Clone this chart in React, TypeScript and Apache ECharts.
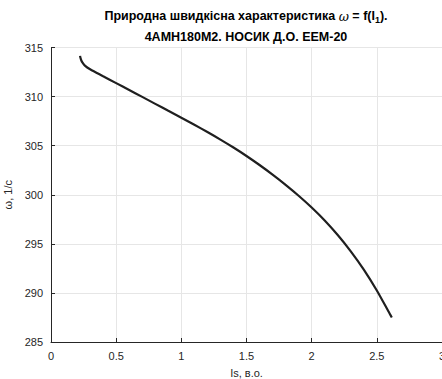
import React, { useEffect, useRef } from "react";
import * as echarts from "echarts";

const currentIs = [0.223, 0.226, 0.232, 0.242, 0.26, 0.3, 0.4, 0.5, 0.6, 0.7, 0.8, 0.9, 1.0, 1.1, 1.2, 1.3, 1.4, 1.5, 1.6, 1.7, 1.8, 1.9, 2.0, 2.1, 2.2, 2.3, 2.4, 2.5, 2.6, 2.615];
const omega = [314.15, 313.95, 313.7, 313.45, 313.15, 312.78, 312.07, 311.37, 310.67, 309.97, 309.26, 308.55, 307.85, 307.13, 306.39, 305.62, 304.81, 303.95, 303.03, 302.05, 301.01, 299.9, 298.7, 297.38, 295.9, 294.24, 292.38, 290.25, 287.85, 287.5];

const titleLine1 = "Природна швидкісна характеристика ";
const titleLine2 = "4АМН180М2. НОСИК Д.О. ЕЕМ-20";

const FONT = "'Liberation Sans', Arial, sans-serif";

export default function App() {
  const ref = useRef<HTMLDivElement>(null);
  useEffect(() => {
    const chart = echarts.init(ref.current!, null, { renderer: "svg" });
    const data = currentIs.map((x, i) => [x, omega[i]]);
    chart.setOption({
      animation: false,
      backgroundColor: "#ffffff",
      graphic: [
        {
          type: "text",
          x: 246,
          y: 16,
          style: {
            text: "{b|" + titleLine1 + "}{i|ω}{b| = f(I}{s|1}{b|).}",
            align: "center",
            verticalAlign: "middle",
            rich: {
              b: { fontFamily: FONT, fontWeight: "bold", fontSize: 12.5, fill: "#000" },
              i: { fontFamily: "'DejaVu Serif', serif", fontStyle: "italic", fontSize: 12.5, fill: "#000" },
              s: { fontFamily: FONT, fontWeight: "bold", fontSize: 9, fill: "#000", padding: [7, 0, 0, 0] },
            },
          },
        },
        {
          type: "text",
          x: 246,
          y: 37,
          style: {
            text: titleLine2,
            align: "center",
            verticalAlign: "middle",
            font: "bold 12.5px 'Liberation Sans', Arial, sans-serif",
            fill: "#000",
          },
        },
      ],
      grid: { left: 51, right: 0, top: 47.5, bottom: 37, containLabel: false, outerBoundsMode: "none" },
      xAxis: {
        type: "value",
        min: 0,
        max: 3,
        interval: 0.5,
        name: "Is, в.о.",
        nameLocation: "middle",
        nameGap: 25,
        nameTextStyle: { fontFamily: FONT, fontSize: 11, color: "#262626" },
        axisLine: { show: true, lineStyle: { color: "#262626", width: 1 } },
        axisTick: { show: true, inside: true, length: 4, lineStyle: { color: "#262626" } },
        axisLabel: {
          fontFamily: FONT,
          fontSize: 11,
          color: "#262626",
          margin: 8,
          formatter: (v: number) => String(v),
        },
        splitLine: { show: true, lineStyle: { color: "#e6e6e6", width: 1 } },
      },
      yAxis: {
        type: "value",
        min: 285,
        max: 315,
        interval: 5,
        name: "ω, 1/с",
        nameLocation: "middle",
        nameGap: 30,
        nameTextStyle: { fontFamily: FONT, fontSize: 11, color: "#262626" },
        axisLine: { show: true, lineStyle: { color: "#262626", width: 1 } },
        axisTick: { show: true, inside: true, length: 4, lineStyle: { color: "#262626" } },
        axisLabel: { fontFamily: FONT, fontSize: 11, color: "#262626", margin: 8 },
        splitLine: { show: true, lineStyle: { color: "#e6e6e6", width: 1 } },
      },
      series: [
        {
          type: "line",
          data,
          showSymbol: false,
          smooth: 0.3,
          lineStyle: { color: "#1f1f1f", width: 2.2 },
          itemStyle: { color: "#1f1f1f" },
        },
      ],
    });
    return () => chart.dispose();
  }, []);
  return <div ref={ref} style={{ width: 442, height: 379, position: "absolute", left: 0, top: 0 }} />;
}
